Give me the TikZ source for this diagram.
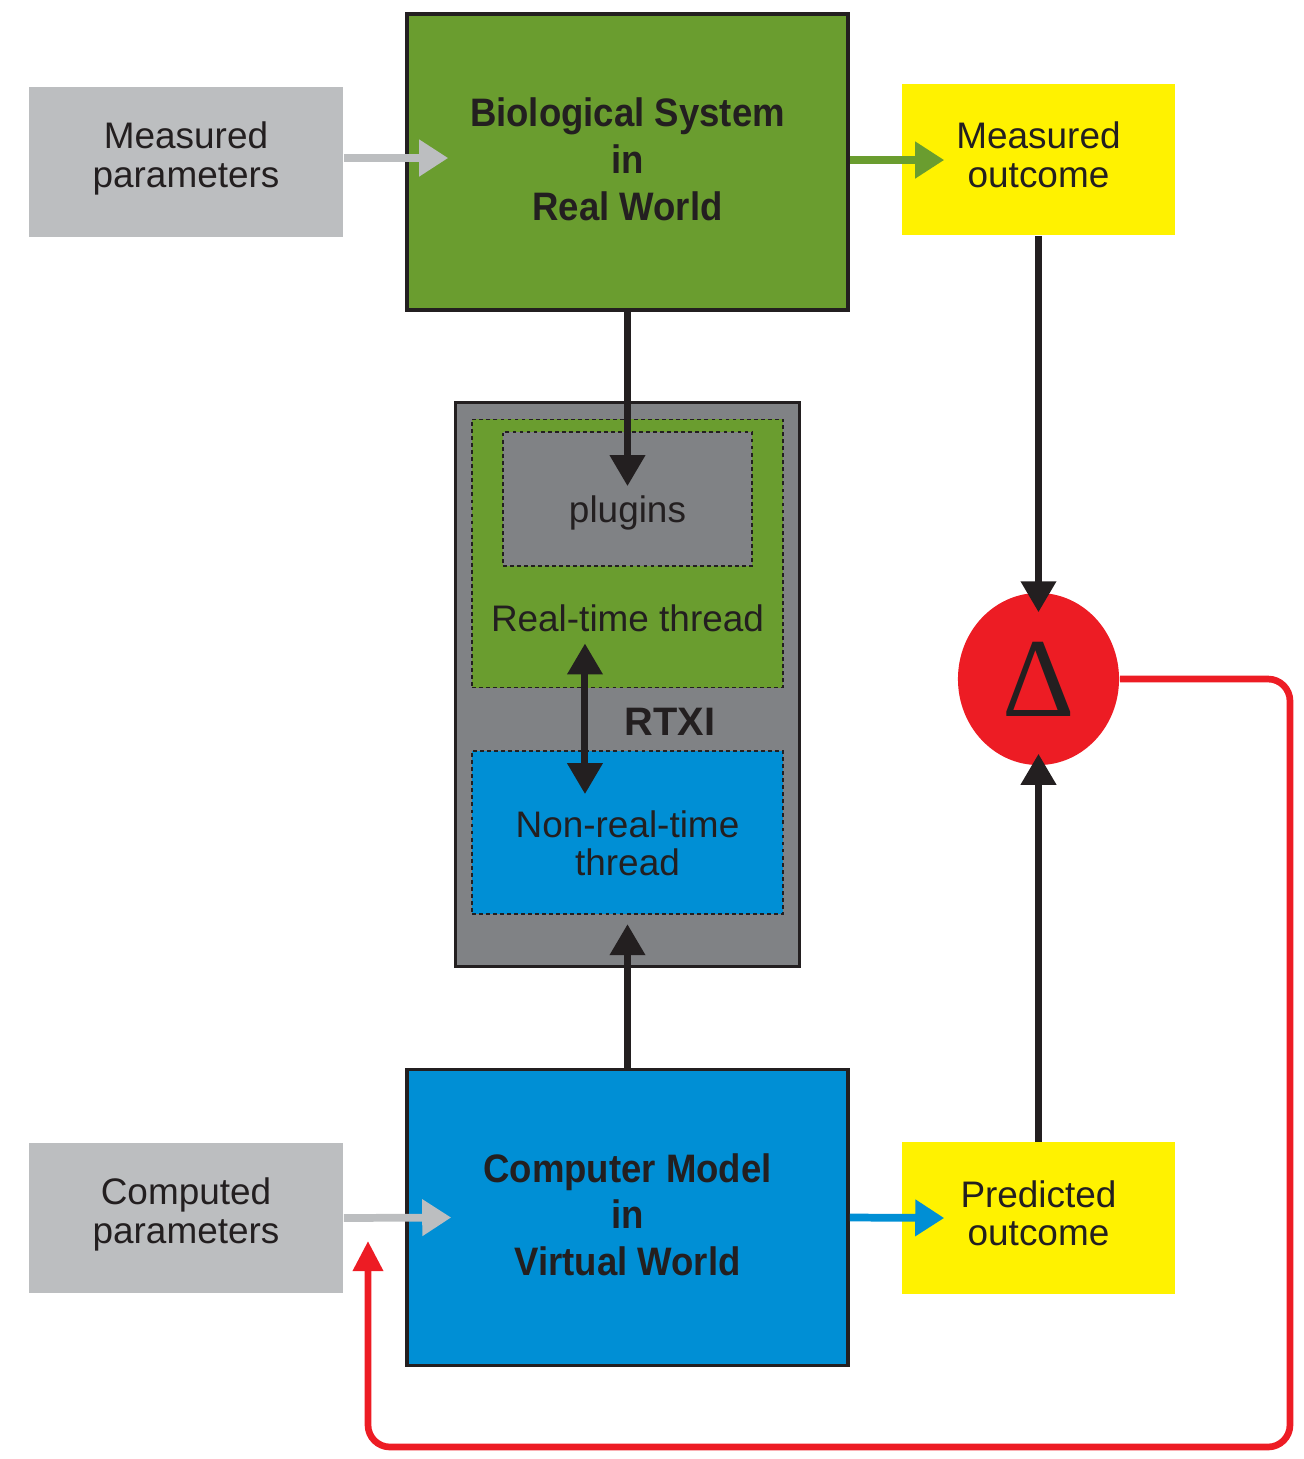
\documentclass[tikz,border=0pt]{standalone}
\usepackage{fontspec}
\setmainfont{Liberation Sans}
\newfontfamily\condfont[FakeStretch=0.92]{Liberation Sans}
\newfontfamily\deltafont{Liberation Serif}
\usepackage{xcolor}
\usepackage{tikz}
\usetikzlibrary{shapes}
\usetikzlibrary{positioning}
\usetikzlibrary{shapes.geometric}
\usetikzlibrary{arrows.meta}
\definecolor{pargray}{HTML}{BCBEC0}
\definecolor{biogreen}{HTML}{6A9D2F}
\definecolor{outyellow}{HTML}{FFF200}
\definecolor{modelblue}{HTML}{008FD5}
\definecolor{rtxigray}{HTML}{808285}
\definecolor{deltared}{HTML}{ED1C24}
\definecolor{ink}{HTML}{231F20}
\tikzset{
    plainbox/.style = {rectangle, inner sep=0pt, align=center, text=ink, font=\fontsize{10.5}{10.9}\selectfont},
    bigbox/.style = {rectangle, draw=ink, line width=0.95pt, inner sep=0pt, align=center, text=ink, text depth=0.06cm, font=\condfont\bfseries\fontsize{11.3}{13.3}\selectfont, minimum width=4.41cm, minimum height=2.96cm},
    dotbox/.style = {rectangle, draw=ink, line width=0.5pt, dash pattern=on 1.1pt off 0.9pt, inner sep=0pt},
}
\begin{document}
\begin{tikzpicture}[
    x=0.01cm, y=-0.01cm,
    >={Triangle[length=0.31cm, width=0.34cm]}
]
\tikzset{
    parbox/.style = {plainbox, fill=pargray, text depth=0.15cm, minimum width=3.14cm, minimum height=1.50cm},
    outbox/.style = {plainbox, fill=outyellow, text depth=0.1cm, minimum width=2.73cm, minimum height=1.51cm},
    blackarrow/.style = {->, line width=2pt, ink},
    sidearrow/.style = {-{Triangle[length=0.29cm, width=0.35cm]}, line width=2.2pt},
    feedback/.style = {-{Triangle[length=0.30cm, width=0.29cm]}, line width=1.9pt, deltared, rounded corners=0.22cm}
}
\useasboundingbox (0,0) rectangle (1304,1459);
\node[parbox] at (186,162) (mpar) {Measured\\parameters};
\node[bigbox, fill=biogreen] at (627.5,162) (bio) {Biological System\\in\\Real World};
\node[outbox] at (1038.5,159.5) (mout) {Measured\\outcome};
\node[rectangle, draw=ink, line width=0.85pt, fill=rtxigray, minimum width=3.43cm, minimum height=5.64cm] at (627.5,684.5) (rtxi) {};
\node[dotbox, fill=biogreen, minimum width=3.11cm, minimum height=2.68cm] at (627.5,553.5) (rt) {};
\node[dotbox, fill=rtxigray, minimum width=2.49cm, minimum height=1.34cm] at (627.5,499) (plug) {};
\node[plainbox] at (627.5,513) (pluglabel) {plugins};
\node[plainbox] at (627.5,618) (rtlabel) {Real-time thread};
\node[plainbox, font=\bfseries\fontsize{11.3}{13.3}\selectfont] at (670,722) (rtxilabel) {RTXI};
\node[dotbox, fill=modelblue, minimum width=3.11cm, minimum height=1.63cm] at (627.5,832.5) (nrt) {};
\node[plainbox] at (627.5,843) (nrtlabel) {Non-real-time\\thread};
\node[parbox] at (186,1218) (cpar) {Computed\\parameters};
\node[bigbox, fill=modelblue] at (627.5,1217.5) (model) {Computer Model\\in\\Virtual World};
\node[outbox] at (1038.5,1218) (pout) {Predicted\\outcome};
\node[ellipse, fill=deltared, inner sep=0pt, minimum width=1.61cm, minimum height=1.72cm, text=ink] at (1038.5,679) (delta) {\deltafont\fontsize{32}{32}\selectfont Δ};
\coordinate (fbturn) at (1290,1447);
\coordinate (fbtip) at (368,1241);
\draw[sidearrow, pargray] (mpar.east |- 0,158) -- ([xshift=0.43cm]bio.west |- 0,158);
\draw[sidearrow, biogreen] (bio.east |- 0,160) -- ([xshift=0.43cm]mout.west |- 0,160);
\draw[sidearrow, pargray] (cpar.east) -- ([xshift=0.46cm]model.west);
\draw[sidearrow, modelblue] (model.east) -- ([xshift=0.43cm]pout.west);
\draw[blackarrow] (bio.south) -- ([yshift=-0.55cm]plug.north);
\draw[blackarrow] (model.north) -- ([yshift=0.44cm]rtxi.south);
\draw[blackarrow, <->] ([xshift=-0.425cm, yshift=0.45cm]rt.south) -- ([xshift=-0.425cm, yshift=-0.44cm]nrt.north);
\draw[blackarrow] (mout.south) -- ([yshift=-0.2cm]delta.north);
\draw[blackarrow] (pout.north) -- ([yshift=0.12cm]delta.south);
\draw[feedback] (delta.east) -| (fbturn) -| (fbtip);
\end{tikzpicture}
\end{document}
